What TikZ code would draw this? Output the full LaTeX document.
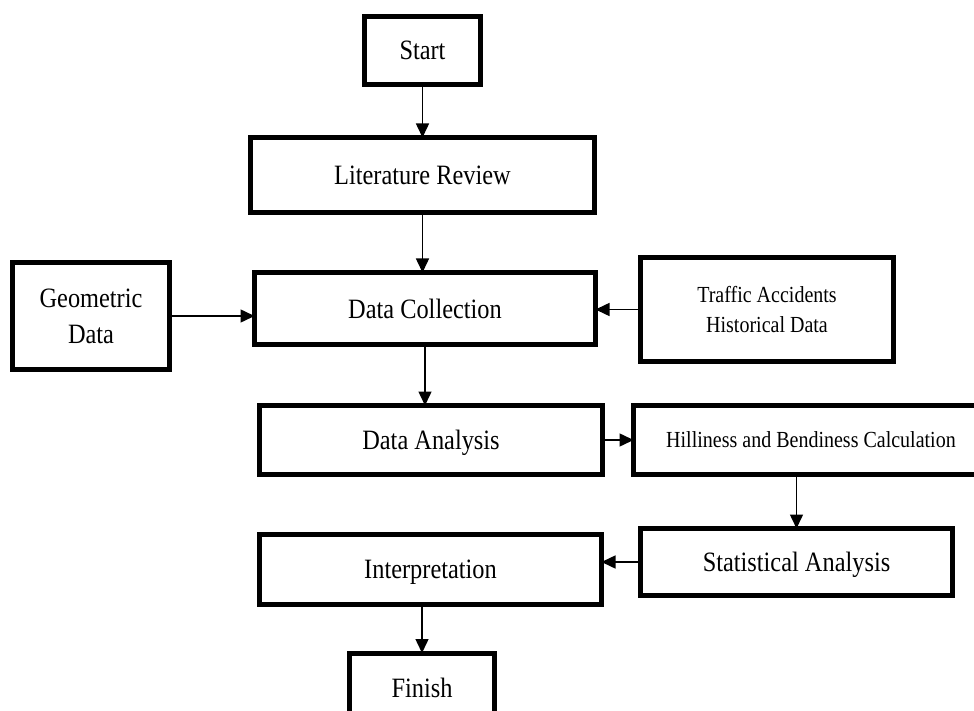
\documentclass[tikz,border=0pt]{standalone}
\usepackage{fontspec}
\setmainfont{Liberation Serif}[FakeStretch=0.87]
\usepackage{tikz}
\usetikzlibrary{arrows.meta}
\usetikzlibrary{positioning}
\tikzset{
    stepbox/.style={draw=black, line width=2.5pt, fill=white, inner sep=0pt, outer sep=0pt,
        align=center, text depth=0pt, font=\fontsize{14}{18}\selectfont},
    smallbox/.style={stepbox, font=\fontsize{11.5}{15}\selectfont},
    openbox/.style={smallbox, draw=none},
    flow/.style={draw=black, line width=0.75pt, -{Triangle[length=7pt,width=6.5pt]}},
}
\begin{document}
\begin{tikzpicture}[x=0.5pt, y=-0.5pt]
	\useasboundingbox (0,0) rectangle (974,711);
	% main column
	\node[stepbox, minimum width=58pt, minimum height=34pt] (start) at (422.5,50.5) {Start};
	\node[stepbox, minimum width=172pt, minimum height=37.5pt] (litrev) at (422.5,175) {Literature Review};
	\node[stepbox, minimum width=170.5pt, minimum height=36pt] (datacoll) at (425,308.5) {Data Collection};
	\node[stepbox, minimum width=171.5pt, minimum height=34.5pt] (dataanal) at (431,440) {Data Analysis};
	\node[stepbox, minimum width=171pt, minimum height=35pt] (interp) at (430.5,569.5) {Interpretation};
	\node[stepbox, minimum width=72.5pt, minimum height=35pt] (finish) at (422,688) {Finish};
	%
	\node[stepbox, minimum width=78.5pt, minimum height=53.5pt] (geodata) at (91,316) {Geometric\\Data};
	\node[smallbox, minimum width=126.5pt, minimum height=52pt] (accdata) at (767,309.5) {Traffic Accidents\\Historical Data};
	% this box runs past the right edge of the picture
	\node[openbox, minimum width=177.5pt, minimum height=34.5pt] (hillbend) at (811,439.5) {Hilliness and Bendiness Calculation};
	\draw[line width=2.5pt] (hillbend.north east) -- (hillbend.north west)
		-- (hillbend.south west) -- (hillbend.south east);
	\node[stepbox, minimum width=156pt, minimum height=33.5pt] (statanal) at (796.5,562) {Statistical Analysis};
	% connectors
	\draw[flow] (start.south) -- (start.south |- litrev.north);
	\draw[flow] (litrev.south) -- (litrev.south |- datacoll.north);
	\draw[flow] (geodata.east) -- (geodata.east -| datacoll.west);
	\draw[flow] (accdata.west) -- (accdata.west -| datacoll.east);
	\draw[flow] (datacoll.south) -- (datacoll.south |- dataanal.north);
	\draw[flow] (dataanal.east) -- (dataanal.east -| hillbend.west);
	\draw[flow] (hillbend.south -| statanal.north) -- (statanal.north);
	\draw[flow] (statanal.west) -- (statanal.west -| interp.east);
	\draw[flow] (interp.south -| finish.north) -- (finish.north);
\end{tikzpicture}
\end{document}
